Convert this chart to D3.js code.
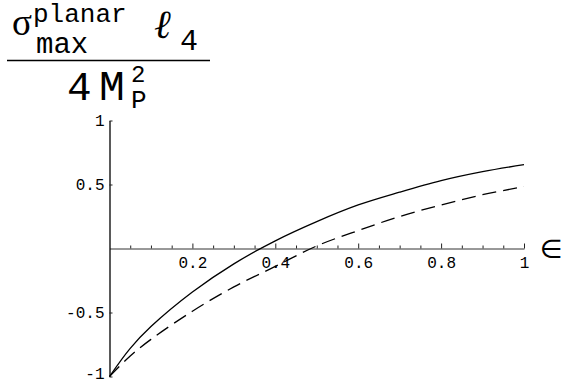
<!DOCTYPE html>
<html>
<head>
<meta charset="utf-8">
<script src="https://cdn.jsdelivr.net/npm/d3@7"></script>
<style>
  html, body { margin: 0; padding: 0; background: #fff; }
  svg { display: block; }
  .mono { font-family: "Liberation Mono", "DejaVu Sans Mono", monospace; }
</style>
</head>
<body>
<svg id="chart" width="562" height="383"></svg>
<script>
// epsilon samples shared by both curves
const epsilon = [0, 0.05, 0.1, 0.2, 0.3, 0.4, 0.5, 0.6, 0.7, 0.8, 0.9, 1.0];
// solid curve
const sigmaSolid = [-1, -0.78, -0.61, -0.34, -0.12, 0.06, 0.21, 0.34, 0.44, 0.53, 0.60, 0.655];
// dashed curve
const sigmaDashed = [-1, -0.84, -0.71, -0.49, -0.30, -0.14, 0.02, 0.14, 0.25, 0.34, 0.42, 0.483];

const xMajorTicks = [0.2, 0.4, 0.6, 0.8, 1];
const xMinorTicks = d3.range(1, 21).map(i => i * 0.05).filter(v => Math.abs(v / 0.2 - Math.round(v / 0.2)) > 1e-6);
const yTicks = [-1, -0.5, 0.5, 1];
const yTickLabels = ["-1", "-0.5", "0.5", "1"];

const svg = d3.select("#chart");

const x = d3.scaleLinear().domain([0, 1]).range([109.5, 524]);
const y = d3.scaleLinear().domain([-1, 1]).range([376.5, 120.5]);

// x axis through y = 0, ticks pointing up
const xAxisG = svg.append("g").attr("transform", `translate(0,${y(0)})`);
xAxisG.call(d3.axisBottom(x).tickValues(xMinorTicks).tickSizeInner(-3).tickSizeOuter(0).tickFormat(""));
xAxisG.call(g => g.select(".domain").remove());
const xAxisMajor = svg.append("g").attr("transform", `translate(0,${y(0)})`)
  .call(d3.axisBottom(x).tickValues(xMajorTicks).tickSizeInner(-5).tickSizeOuter(0)
    .tickPadding(8).tickFormat(d => d === 1 ? "1" : d3.format(".1f")(d)));
xAxisMajor.select(".domain").attr("stroke", "#333");
xAxisMajor.selectAll("text").attr("class", "mono").attr("font-size", 16).attr("fill", "#000");
svg.selectAll("g.tick line").attr("stroke", "#222");

// y axis through x = 0, ticks pointing right
const yAxis = svg.append("g").attr("transform", `translate(${x(0)},0)`)
  .call(d3.axisLeft(y).tickValues(yTicks).tickSizeInner(-3).tickSizeOuter(0)
    .tickPadding(5).tickFormat((d, i) => yTickLabels[i]));
yAxis.select(".domain").attr("stroke", "#000").attr("stroke-width", 1.3);
yAxis.selectAll("text").attr("class", "mono").attr("font-size", 16).attr("fill", "#000");
yAxis.selectAll("line").attr("stroke", "#222");
// keep the bottom label inside the frame
yAxis.selectAll(".tick").filter(d => d === -1).select("text").attr("dy", "0.1em");

// curves
const line = d3.line()
  .x((d, i) => x(epsilon[i]))
  .y(d => y(d))
  .curve(d3.curveCatmullRom.alpha(0.5));

svg.append("path").datum(sigmaDashed)
  .attr("d", line).attr("fill", "none").attr("stroke", "#000")
  .attr("stroke-width", 1.3).attr("stroke-dasharray", "14,7");
svg.append("path").datum(sigmaSolid)
  .attr("d", line).attr("fill", "none").attr("stroke", "#000")
  .attr("stroke-width", 1.3);

// axis symbol
svg.append("text").attr("x", 540).attr("y", y(0) + 9)
  .attr("font-family", "DejaVu Sans").attr("font-size", 26).attr("fill", "#000")
  .text("∈");

// y label: fraction
const lab = svg.append("g").attr("fill", "#000");
lab.append("text").attr("x", 12).attr("y", 35)
  .attr("font-family", "Liberation Serif").attr("font-size", 37).text("σ");
lab.append("text").attr("class", "mono").attr("x", 33).attr("y", 22)
  .attr("font-size", 26).text("planar");
lab.append("text").attr("class", "mono").attr("x", 36).attr("y", 53)
  .attr("font-size", 29).text("max");
lab.append("text").attr("x", 154).attr("y", 38)
  .attr("font-family", "DejaVu Serif").attr("font-style", "italic").attr("font-size", 40).text("ℓ");
lab.append("text").attr("class", "mono").attr("x", 180).attr("y", 50)
  .attr("font-size", 30).text("4");
lab.append("line").attr("x1", 7).attr("x2", 210).attr("y1", 60.5).attr("y2", 60.5)
  .attr("stroke", "#000").attr("stroke-width", 1.5);
lab.append("text").attr("class", "mono").attr("x", 67).attr("y", 100)
  .attr("font-size", 41).text("4");
lab.append("text").attr("class", "mono").attr("x", 99).attr("y", 100)
  .attr("font-size", 43).text("M");
lab.append("text").attr("class", "mono").attr("x", 131).attr("y", 82)
  .attr("font-size", 24).text("2");
lab.append("text").attr("class", "mono").attr("x", 131).attr("y", 108)
  .attr("font-size", 26).text("P");
</script>
</body>
</html>
